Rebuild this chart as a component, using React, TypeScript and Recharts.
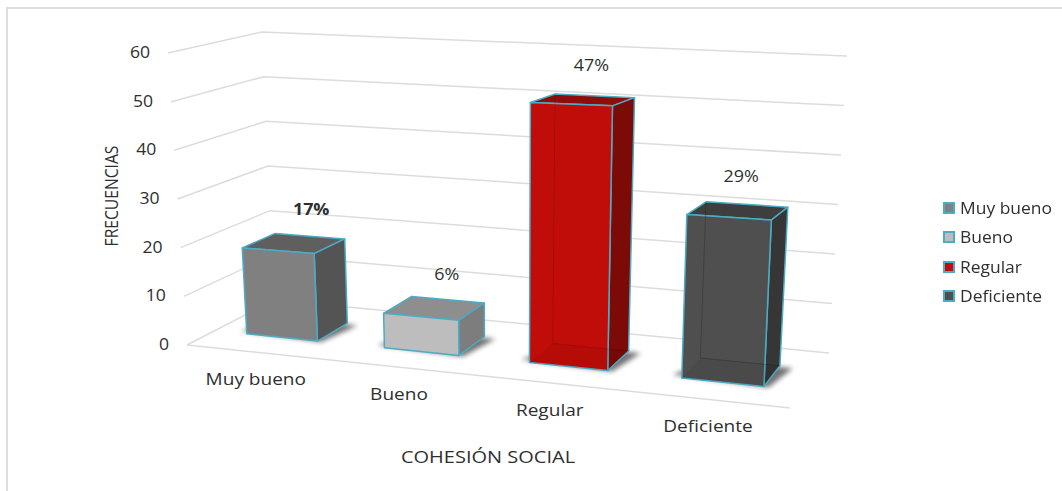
import React from 'react';
import { BarChart, Bar, XAxis, YAxis, CartesianGrid, Legend, LabelList } from 'recharts';

const categories = ['Muy bueno', 'Bueno', 'Regular', 'Deficiente'];
const frecuencias = [18, 7, 51, 31];
const percents = ['17%', '6%', '47%', '29%'];
const yTicks = [0, 10, 20, 30, 40, 50, 60];

const frontColors = ['#808080', '#bdbdbd', '#c10d09', '#4f4f4f'];
const sideColors = ['#545454', '#7d7d7d', '#7c0a07', '#363636'];
const topColors = ['#5f5f5f', '#8e8e8e', '#8f0c0a', '#3e3e3e'];
const hiddenEdges = [0, 0, 0.12, 0.2];
const EDGE = '#4bacc6';
const GRID = '#dcdcdc';
const TEXT = '#2f2f2f';
const FONT = '"Open Sans", sans-serif';

const data = categories.map((name, i) => ({ name, frecuencia: frecuencias[i], pct: percents[i] }));

// flat plot rectangle that recharts computes; everything gets projected out of it
const W = 1062;
const H = 491;
const PLOT_L = 187;
const PLOT_T = 53;
const PLOT_W = 600;
const PLOT_H = 292;
const PLOT_B = PLOT_T + PLOT_H;

// where the 8 corners of the chart box land in the picture [s][t][v]
const box = {
  c000: [187, 345], c100: [790, 408], c010: [274, 300], c110: [829, 353],
  c001: [168, 53], c101: [806, 70], c011: [262, 32], c111: [847, 56],
};
const T_FRONT = 0.32;
const T_BACK = 0.7;

const project = (u: number, t: number, v: number) => {
  const s = u - 0.1 * u * (1 - u); // bars get wider to the right
  const mix = (k: number) => {
    const a = box.c000[k] * (1 - s) + box.c100[k] * s;
    const b = box.c010[k] * (1 - s) + box.c110[k] * s;
    const c = box.c001[k] * (1 - s) + box.c101[k] * s;
    const d = box.c011[k] * (1 - s) + box.c111[k] * s;
    const low = a * (1 - t) + b * t;
    const high = c * (1 - t) + d * t;
    return low * (1 - v) + high * v;
  };
  return [mix(0), mix(1)];
};

const toU = (x: number) => (x - PLOT_L) / PLOT_W;
const toV = (y: number) => (PLOT_B - y) / PLOT_H;
const pts = (list: number[][]) => list.map((p) => p.join(',')).join(' ');

const Stretched = ({ x, y, sx = 1.2, size = 16, anchor = 'middle', bold = false, children }: any) => (
  <text
    transform={`translate(${x},${y}) scale(${sx},1)`}
    textAnchor={anchor}
    fontFamily={FONT}
    fontSize={size}
    fontWeight={bold ? 700 : 400}
    fill={TEXT}
  >
    {children}
  </text>
);

const Bar3D = (props: any) => {
  const { x, y, width, index } = props;
  const u1 = toU(x);
  const u2 = toU(x + width);
  const v = toV(y);
  const p = (u: number, t: number, h: number) => project(u, t, h);
  const hidden = hiddenEdges[index];
  return (
    <g>
      <polygon
        points={pts([p(u1 - 0.018, T_FRONT + 0.04, 0), p(u2 + 0.008, T_FRONT - 0.01, 0), p(u2 + 0.022, T_BACK - 0.02, 0), p(u1 + 0.02, T_BACK, 0)])}
        fill="#000"
        opacity={0.55}
        filter="url(#barShadow)"
      />
      <polygon points={pts([p(u1, T_FRONT, v), p(u2, T_FRONT, v), p(u2, T_BACK, v), p(u1, T_BACK, v)])} fill={topColors[index]} stroke={EDGE} strokeWidth={1.5} strokeLinejoin="round" />
      <polygon points={pts([p(u2, T_FRONT, 0), p(u2, T_BACK, 0), p(u2, T_BACK, v), p(u2, T_FRONT, v)])} fill={sideColors[index]} stroke={EDGE} strokeWidth={1.5} strokeLinejoin="round" />
      <polygon points={pts([p(u1, T_FRONT, 0), p(u2, T_FRONT, 0), p(u2, T_FRONT, v), p(u1, T_FRONT, v)])} fill={frontColors[index]} stroke={EDGE} strokeWidth={1.5} strokeLinejoin="round" />
      {hidden > 0 && (
        <g>
          <polygon
            points={pts([p(u1, T_FRONT, 0), p(u2, T_FRONT, 0), p(u2, T_BACK, 0), p(u1, T_BACK, 0)])}
            fill="#000"
            opacity={0.06}
          />
          <polyline
            points={pts([p(u1, T_BACK, v), p(u1, T_BACK, 0), p(u2, T_BACK, 0)])}
            fill="none"
            stroke="#000"
            strokeOpacity={hidden}
            strokeWidth={1}
          />
        </g>
      )}
    </g>
  );
};

const PctLabel = (props: any) => {
  const { x, y, width, value, index } = props;
  const u = toU(x + width / 2);
  const v = toV(y);
  const [px, py] = project(u, T_BACK + 0.03, v);
  return (
    <Stretched x={px - u * 8} y={py - 17 - v * 9} sx={1.12} bold={index === 0}>
      {value}
    </Stretched>
  );
};

// one gridline = left wall piece + back wall piece
const WallLine = (props: any) => {
  const v = toV(props.y1);
  const a = project(0, 0, v);
  const b = project(0, 1, v);
  const c = project(1, 1, v);
  const d = project(1, 0, v);
  return (
    <g key={props.key}>
      <polyline points={pts([a, b, c])} fill="none" stroke={GRID} strokeWidth={1.5} />
      {Math.abs(v) < 0.001 && <polyline points={pts([a, d])} fill="none" stroke={GRID} strokeWidth={1.5} />}
    </g>
  );
};

const YTick = (props: any) => {
  const { y, payload } = props;
  const [px, py] = project(0, 0, toV(y));
  return (
    <Stretched x={px - 18} y={py + 5} sx={1.1} anchor="end">
      {payload.value}
    </Stretched>
  );
};

const XTick = (props: any) => {
  const { x, payload } = props;
  const [px, py] = project(toU(x), 0, 0);
  return (
    <Stretched x={px} y={py + 33} sx={1.19}>
      {payload.value}
    </Stretched>
  );
};

const LegendList = () => (
  <div style={{ fontFamily: FONT, fontSize: 16, color: TEXT }}>
    {categories.map((name, i) => (
      <div key={name} style={{ display: 'flex', alignItems: 'center', height: 29.5 }}>
        <span
          style={{
            width: 8,
            height: 8,
            background: frontColors[i],
            border: `2px solid ${EDGE}`,
            marginRight: 5,
          }}
        />
        <span style={{ display: 'inline-block', transform: 'scaleX(1.09)', transformOrigin: 'left center', whiteSpace: 'nowrap' }}>{name}</span>
      </div>
    ))}
  </div>
);

export default function App() {
  return (
    <div style={{ position: 'absolute', left: 0, top: 0, width: W, height: H, background: '#fff', overflow: 'hidden' }}>
      <div style={{ position: 'absolute', left: 6, top: 7, right: 0, bottom: 0, borderLeft: '2px solid #dedede', borderTop: '2px solid #dedede' }} />
      <BarChart
        width={W}
        height={H}
        data={data}
        margin={{ top: PLOT_T, left: PLOT_L - 60, right: W - PLOT_L - PLOT_W, bottom: H - PLOT_B - 40 }}
        style={{ position: 'absolute', left: 0, top: 0 }}
      >
        <defs>
          <filter id="barShadow" x="-30%" y="-30%" width="160%" height="160%">
            <feGaussianBlur stdDeviation="2.5" />
          </filter>
        </defs>
        <CartesianGrid vertical={false} horizontal={WallLine as any} />
        <XAxis dataKey="name" height={40} axisLine={false} tickLine={false} tick={XTick as any} interval={0} />
        <YAxis width={60} domain={[0, 60]} ticks={yTicks} axisLine={false} tickLine={false} tick={YTick as any} interval={0} />
        <Legend layout="vertical" align="center" verticalAlign="middle" content={LegendList} wrapperStyle={{ left: 943, top: 193, width: 119 }} />
        <Bar dataKey="frecuencia" barSize={78} shape={Bar3D as any} isAnimationActive={false}>
          <LabelList dataKey="pct" content={PctLabel as any} />
        </Bar>
        <text
          transform="translate(118,196) rotate(-90) scale(0.87,1)"
          textAnchor="middle"
          fontFamily={FONT}
          fontSize={18}
          fill={TEXT}
        >
          FRECUENCIAS
        </text>
        <Stretched x={488} y={463} sx={1.25}>COHESIÓN SOCIAL</Stretched>
      </BarChart>
    </div>
  );
}
